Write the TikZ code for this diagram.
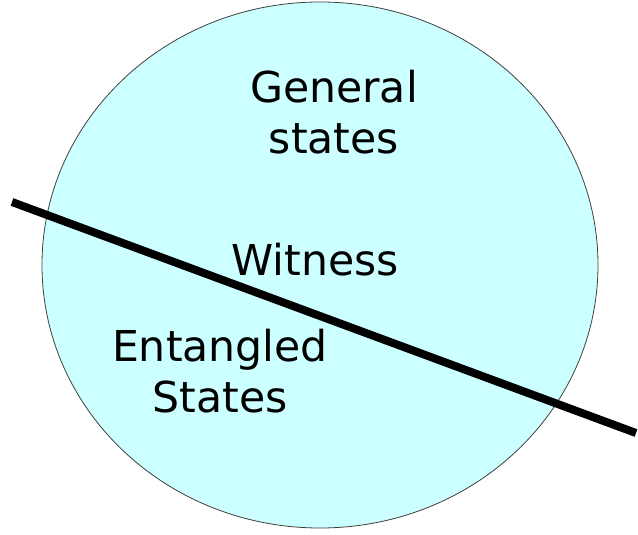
\documentclass[tikz,border=0pt]{standalone}
\usepackage{fontspec}
\setmainfont{DejaVu Sans}
\usepackage{tikz}
\usetikzlibrary{shapes.geometric}
\definecolor{cFill}{HTML}{CCFFFF}
\definecolor{cInk}{HTML}{000000}
\definecolor{cGrey}{HTML}{404040}
\tikzset{
  lbl/.style={font=\fontsize{42.6}{51}\selectfont, align=center, inner sep=0pt, cInk},
  cut/.style={line width=8pt, cInk},
  region/.style={ellipse, draw=cGrey, line width=0.8pt, fill=cFill, inner sep=0pt}
}
\begin{document}
\begin{tikzpicture}[x=1pt,y=-1pt]
\useasboundingbox (0,0) rectangle (638,535);
\node[region, minimum width=556pt, minimum height=526pt] (set) at (320,265) {};
\coordinate (wL) at (12,202);
\coordinate (wR) at (636,433);
\draw[cut] (wL) -- (wR);
\node[lbl] (gen) at (334,112) {General\\states};
\node[lbl] (wit) at (315,260) {Witness};
\node[lbl] (ent) at (220,371) {Entangled\\States};
\end{tikzpicture}
\end{document}
